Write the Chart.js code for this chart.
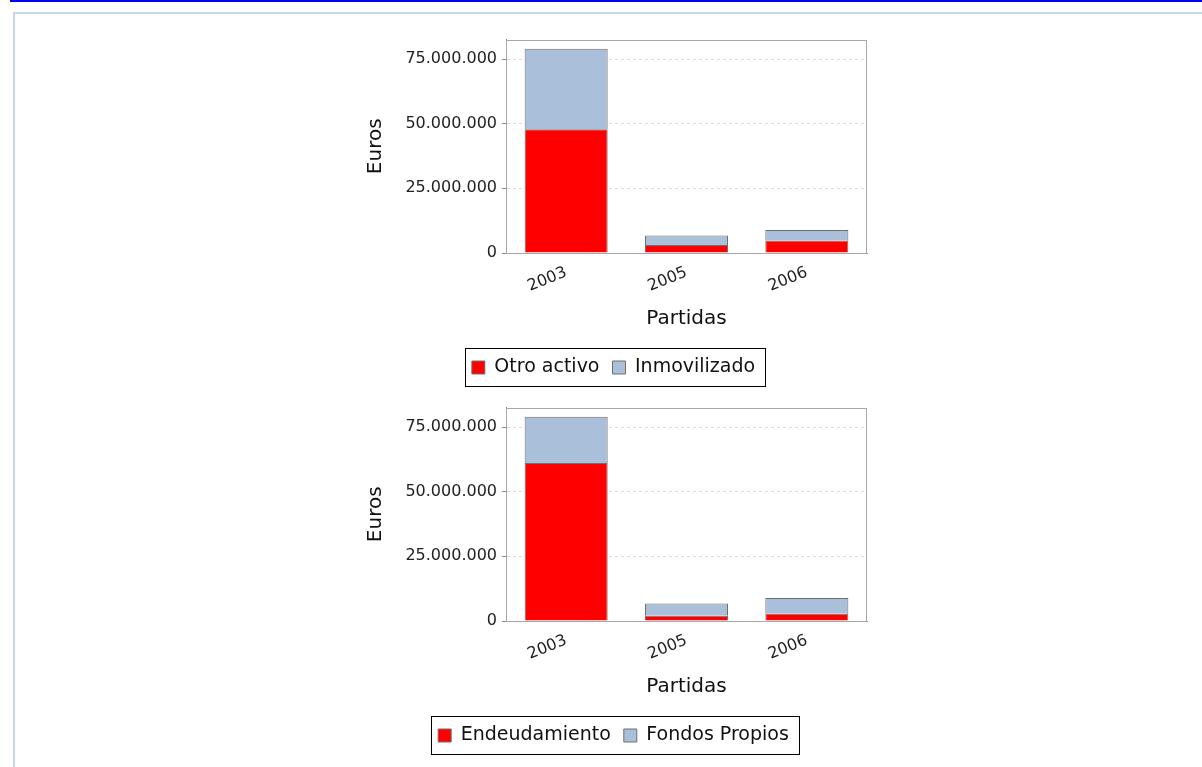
<!DOCTYPE html>
<html lang="es">
<head>
  <meta charset="UTF-8">
  <title>Partidas</title>
  <script src="https://cdn.jsdelivr.net/npm/chart.js"></script>
  <style>
    body {
      margin: 0;
      background: #fff;
      font-family: "DejaVu Sans", sans-serif;
    }
    .topbar {
      position: absolute; left: 10px; right: 0; top: 0; height: 2px;
      background: #0000f0;
    }
    .frame {
      position: absolute; left: 13px; right: 0; top: 12px; bottom: 0;
      border-left: 2px solid #c9d5ea;
      border-top: 2px solid #c9d5ea;
    }
    .box {
      position: absolute; left: 360px; width: 508px; height: 362px;
    }
  </style>
</head>
<body>
  <div class="topbar"></div>
  <div class="frame"></div>
  <div class="box" style="top:25px"><canvas id="chart1"></canvas></div>
  <div class="box" style="top:393px"><canvas id="chart2"></canvas></div>

  <script>
    // values (euros)
    const years = ['2003', '2005', '2006'];
    const otroActivo = [47800000, 3100000, 4800000];
    const inmovilizado = [31200000, 3700000, 4100000];
    const endeudamiento = [61100000, 2000000, 2800000];
    const fondosPropios = [17900000, 4800000, 6100000];
    const yTicks = [0, 25000000, 50000000, 75000000];
    const yMax = 82500000;

    const RED = '#ff0000';
    const BLUE = '#aabfd9';
    const EDGE = '#707070';

    Chart.defaults.font.family = '"DejaVu Sans", sans-serif';

    function fmt(v) {
      return String(v).replace(/\B(?=(\d{3})+(?!\d))/g, '.');
    }

    // grey outline round the plot and a box round the legend
    const frames = {
      id: 'frames',
      afterDraw(chart) {
        const ctx = chart.ctx;
        const a = chart.chartArea;
        ctx.save();
        ctx.strokeStyle = '#a8a8a8';
        ctx.lineWidth = 1;
        ctx.strokeRect(Math.round(a.left) + 0.5, Math.round(a.top) + 0.5,
          Math.round(a.right - a.left) - 1, Math.round(a.bottom - a.top));
        const hb = chart.legend.legendHitBoxes;
        if (hb && hb.length) {
          const l = Math.min(...hb.map(h => h.left));
          const r = Math.max(...hb.map(h => h.left + h.width));
          const cy = hb[0].top + hb[0].height / 2;
          ctx.strokeStyle = '#000';
          ctx.strokeRect(Math.round(l - 7) + 0.5, Math.round(cy - 20) + 0.5,
            Math.round(r - l + 17), 38);
        }
        ctx.restore();
      }
    };

    function createChart(id, labelA, dataA, labelB, dataB) {
      return new Chart(document.getElementById(id), {
        type: 'bar',
        data: {
          labels: years,
          datasets: [
            { label: labelA, data: dataA, backgroundColor: RED, borderColor: EDGE, borderWidth: 1 },
            { label: labelB, data: dataB, backgroundColor: BLUE, borderColor: EDGE, borderWidth: 1 }
          ]
        },
        options: {
          responsive: true,
          maintainAspectRatio: false,
          animation: false,
          layout: { padding: { top: 5, right: 1, left: 0, bottom: 0 } },
          datasets: { bar: { categoryPercentage: 0.69, barPercentage: 1 } },
          scales: {
            x: {
              stacked: true,
              grid: { display: false, drawTicks: false },
              border: { color: '#888', width: 1 },
              ticks: {
                color: '#222', font: { size: 16 }, padding: 10,
                maxRotation: 22, minRotation: 22, autoSkip: false
              },
              title: {
                display: true, text: 'Partidas', color: '#111',
                font: { size: 20 }, padding: { top: 4, bottom: 14 }
              },
              afterFit(scale) { scale.height = 92; }
            },
            y: {
              stacked: true,
              min: 0,
              max: yMax,
              grid: {
                color: '#dcdcdc', tickColor: '#888', tickLength: 4,
                tickBorderDash: []
              },
              border: { color: '#888', width: 1, dash: [3, 3] },
              ticks: {
                color: '#222', font: { size: 16 }, padding: 5,
                callback: v => fmt(v)
              },
              afterBuildTicks(scale) {
                scale.ticks = yTicks.map(v => ({ value: v }));
              },
              title: {
                display: true, text: 'Euros', color: '#111',
                font: { size: 20 }, padding: { top: 4, bottom: 4 }
              },
              afterFit(scale) { scale.width = 146; }
            }
          },
          plugins: {
            tooltip: { enabled: false },
            legend: {
              position: 'bottom',
              labels: {
                color: '#111', font: { size: 19 },
                boxWidth: 13, boxHeight: 13, padding: 13
              }
            }
          }
        },
        plugins: [frames]
      });
    }

    createChart('chart1', 'Otro activo', otroActivo, 'Inmovilizado', inmovilizado);
    createChart('chart2', 'Endeudamiento', endeudamiento, 'Fondos Propios', fondosPropios);
  </script>
</body>
</html>
